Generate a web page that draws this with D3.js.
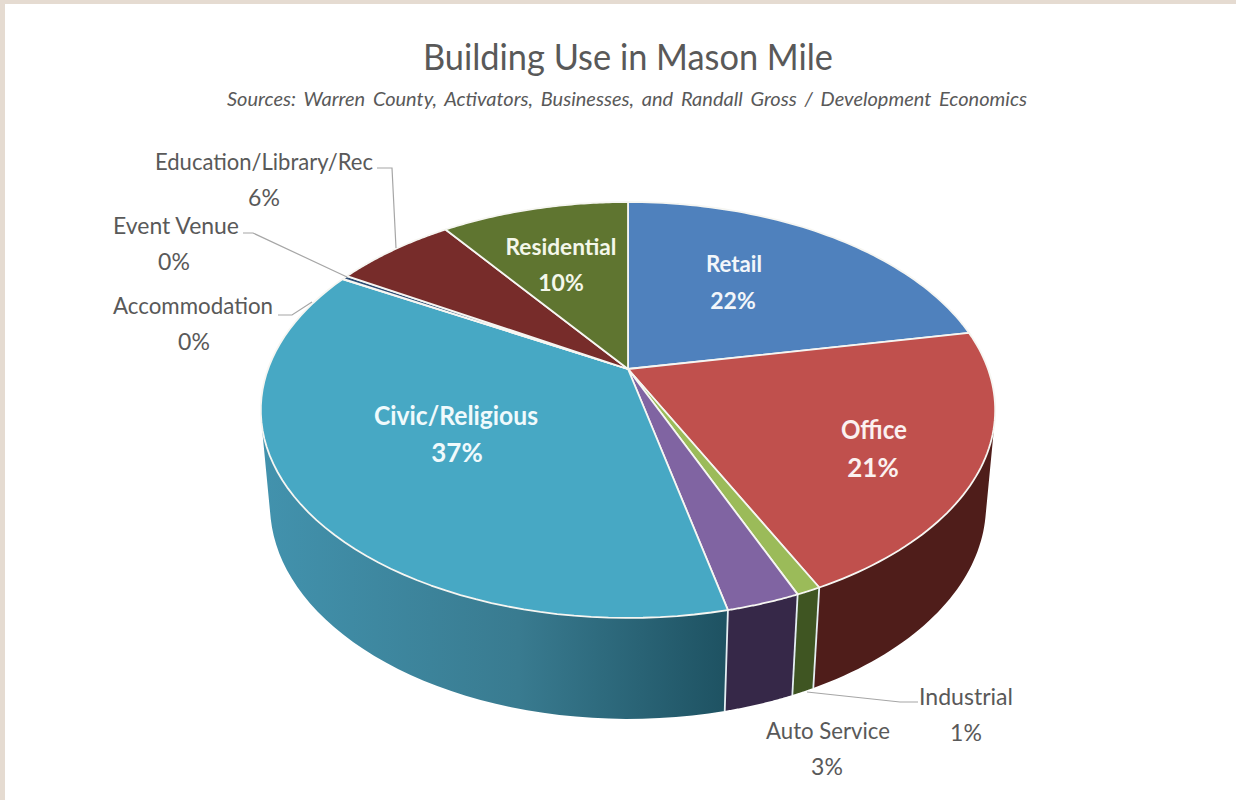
<!DOCTYPE html>
<html>
<head>
<meta charset="utf-8">
<script src="https://cdn.jsdelivr.net/npm/d3@7"></script>
<style>
  html, body { margin: 0; padding: 0; background: #fff; }
  svg { display: block; }
  text { font-family: Lato, "Open Sans", sans-serif; }
</style>
</head>
<body>
<svg id="chart" width="1236" height="800"></svg>
<script>
// Building use shares, percent of floor area
const categories = ["Retail", "Office", "Industrial", "Auto Service", "Civic/Religious",
                    "Accommodation", "Event Venue", "Education/Library/Rec", "Residential"];
const shares = [22, 20.8, 0.9, 2.7, 36.8, 0.05, 0.3, 6.45, 10];
const topColors = ["#4F81BD", "#C0504D", "#9BBB59", "#8064A2", "#47A8C4",
                   "#F79646", "#2C4D75", "#772C2A", "#5F7530"];
const sideColors = ["#2A4566", "#4F1D1A", "#3F5522", "#362848", "url(#civicSide)",
                    "#844F24", "#17283D", "#3F1716", "#323E19"];

const W = 1236, H = 800;
const svg = d3.select("#chart");

// Page frame
svg.append("rect").attr("width", W).attr("height", H).attr("fill", "#E5DBD1");
svg.append("rect").attr("x", 5).attr("y", 4).attr("width", W - 5).attr("height", H - 4).attr("fill", "#fff");

const defs = svg.append("defs");
const civicGrad = defs.append("linearGradient").attr("id", "civicSide")
  .attr("gradientUnits", "userSpaceOnUse").attr("x1", 264).attr("x2", 726).attr("y1", 0).attr("y2", 0);
civicGrad.append("stop").attr("offset", "0").attr("stop-color", "#4292AD");
civicGrad.append("stop").attr("offset", "0.55").attr("stop-color", "#397B90");
civicGrad.append("stop").attr("offset", "1").attr("stop-color", "#1E5262");

// Perspective projection of a unit disk onto the page; v grows toward the viewer.
const perspective = (k, a, b, c) => ([u, v]) => {
  const w = 1 + c * v;
  return [628 + k * u / w, (a * v + b) / w];
};
const projectTop = perspective(360, 127.2, 369, -0.197);
const projectBase = perspective(351.5, 118, 464.3, -0.19);

const pie = d3.pie().sort(null).value(d => d);
const arcs = pie(shares);
const line = d3.line();

const rim = (a) => [Math.sin(a), -Math.cos(a)];
const arcSamples = (d) => d3.range(0, 61).map(i => rim(d.startAngle + (d.endAngle - d.startAngle) * i / 60));

// Side walls come first, each a single path of ruled strips wound the same way
// so the fold at the silhouette stays filled; the top faces hide what lies behind.
const walls = svg.append("g");
arcs.forEach((d, i) => {
  const strips = d3.pairs(arcSamples(d)).map(([p, q]) => {
    const quad = [projectTop(p), projectTop(q), projectBase(q), projectBase(p)];
    return line(d3.polygonArea(quad) < 0 ? quad.reverse() : quad) + "Z";
  });
  walls.append("path").attr("d", strips.join("")).attr("fill", sideColors[i]);
});
arcs.forEach(d => {
  const p = rim(d.startAngle);
  walls.append("path").attr("d", line([projectTop(p), projectBase(p)]))
    .attr("stroke", "#E4EEF2").attr("stroke-width", 1.8).attr("fill", "none");
});

// Top faces
const faces = svg.append("g");
arcs.forEach((d, i) => {
  const outline = [projectTop([0, 0])].concat(arcSamples(d).map(projectTop));
  faces.append("path").attr("d", line(outline) + "Z")
    .attr("fill", topColors[i]).attr("stroke", "#F6F6F2").attr("stroke-width", 1.8)
    .attr("stroke-linejoin", "round");
});

// Leader lines for the labels set outside the pie
const leaders = [
  [[377, 168], [392, 168], [396, 248]],
  [[243, 233], [253, 233], [347, 277]],
  [[278, 315], [292, 315], [312, 302]],
  [[918, 702], [900, 702], [807, 692]]
];
svg.append("g").selectAll("path").data(leaders).join("path")
  .attr("d", d => line(d)).attr("fill", "none").attr("stroke", "#A6A6A6").attr("stroke-width", 1.2);

// Category and percent labels: [category index, name x, name y, percent x, percent y, size, colour, weight, name width]
const labelLayout = [
  [0, 734, 272, 733, 309, 23, "#F2F6FA", 700, 56],
  [1, 874, 439, 873, 477, 26, "#FBF1F0", 700, 66],
  [2, 966, 705, 966, 741, 23, "#595959", 400, 94],
  [3, 828, 739, 827, 775, 23, "#595959", 400, 124],
  [4, 456, 425, 457, 462, 26, "#F0FAFC", 700, 164],
  [5, 193, 314, 194, 350, 23, "#595959", 400, 160],
  [6, 176, 234, 174, 270, 23, "#595959", 400, 126],
  [7, 264, 170, 264, 206, 23, "#595959", 400, 218],
  [8, 561, 255, 561, 291, 23, "#F4F7EA", 700, 111]
];
const labels = svg.append("g").attr("text-anchor", "middle");
labelLayout.forEach(([i, nx, ny, px, py, size, fill, weight, width]) => {
  labels.append("text").attr("x", nx).attr("y", ny).attr("font-size", size)
    .attr("fill", fill).attr("font-weight", weight)
    .attr("textLength", width).attr("lengthAdjust", "spacingAndGlyphs").text(categories[i]);
  labels.append("text").attr("x", px).attr("y", py).attr("font-size", size)
    .attr("fill", fill).attr("font-weight", weight).text(Math.round(shares[i]) + "%");
});

// Headings
svg.append("text").attr("x", 628).attr("y", 70).attr("text-anchor", "middle")
  .attr("font-size", 37).attr("fill", "#595959")
  .attr("textLength", 410).attr("lengthAdjust", "spacingAndGlyphs")
  .text("Building Use in Mason Mile");
svg.append("text").attr("x", 627).attr("y", 106).attr("text-anchor", "middle")
  .attr("font-size", 19.5).attr("font-style", "italic").attr("fill", "#595959")
  .attr("word-spacing", 3)
  .attr("textLength", 800).attr("lengthAdjust", "spacingAndGlyphs")
  .text("Sources: Warren County, Activators, Businesses, and Randall Gross / Development Economics");
</script>
</body>
</html>
